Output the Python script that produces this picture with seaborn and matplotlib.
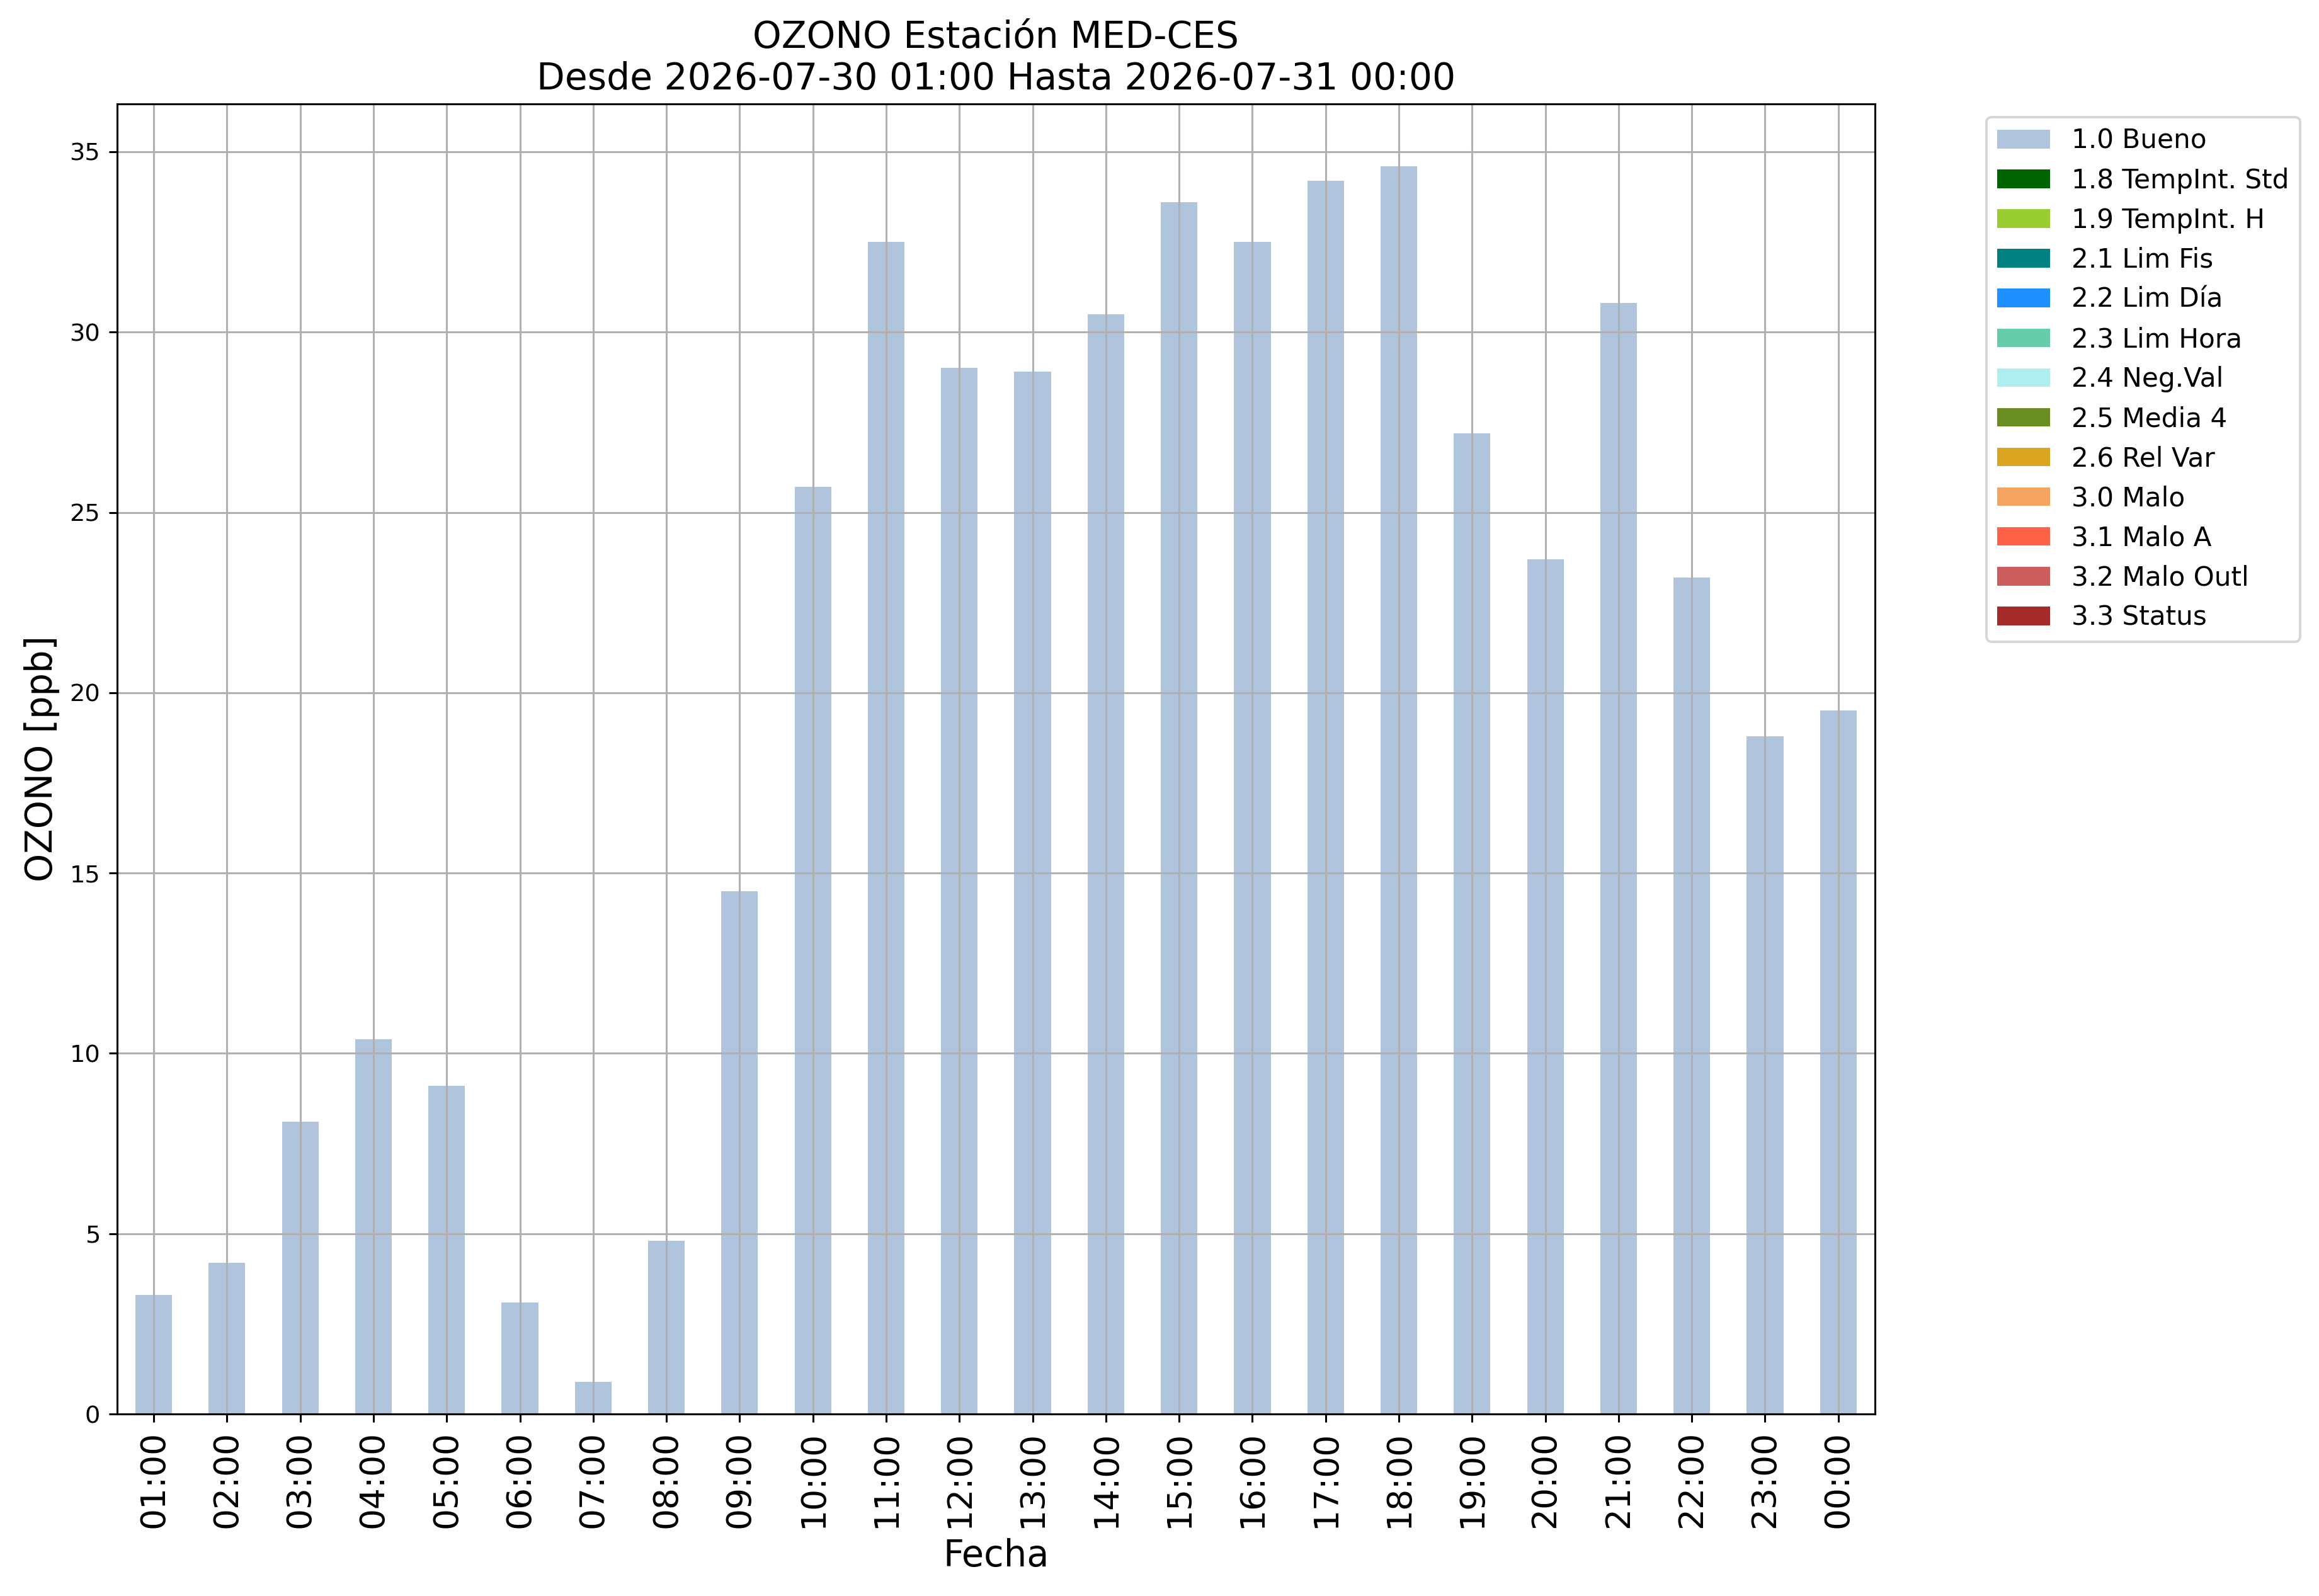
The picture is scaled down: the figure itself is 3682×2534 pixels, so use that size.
import matplotlib
matplotlib.use("Agg")
import pandas as pd
import seaborn as sns
from matplotlib import pyplot as plt

DPI = 276

HORAS = [
    "01:00", "02:00", "03:00", "04:00", "05:00", "06:00", "07:00", "08:00",
    "09:00", "10:00", "11:00", "12:00", "13:00", "14:00", "15:00", "16:00",
    "17:00", "18:00", "19:00", "20:00", "21:00", "22:00", "23:00", "00:00",
]
OZONO = [
    3.3, 4.2, 8.1, 10.4, 9.1, 3.1, 0.9, 4.8,
    14.5, 25.7, 32.5, 29.0, 28.9, 30.5, 33.6, 32.5,
    34.2, 34.6, 27.2, 23.7, 30.8, 23.2, 18.8, 19.5,
]
FLAG_LABELS = [
    "1.0 Bueno", "1.8 TempInt. Std", "1.9 TempInt. H", "2.1 Lim Fis",
    "2.2 Lim Día", "2.3 Lim Hora", "2.4 Neg.Val", "2.5 Media 4",
    "2.6 Rel Var", "3.0 Malo", "3.1 Malo A", "3.2 Malo Outl", "3.3 Status",
]
FLAG_COLORS = [
    "lightsteelblue", "darkgreen", "yellowgreen", "teal",
    "dodgerblue", "mediumaquamarine", "paleturquoise", "olivedrab",
    "goldenrod", "sandybrown", "tomato", "indianred", "brown",
]

df = pd.DataFrame({"Fecha": HORAS, "valor": OZONO, "flag": FLAG_LABELS[0]})

fig = plt.figure(figsize=(3682 / DPI, 2534 / DPI), dpi=DPI)
ax = fig.add_axes([0.0505, 0.114, 0.758, 0.821])

sns.barplot(
    data=df,
    x="Fecha",
    y="valor",
    hue="flag",
    hue_order=FLAG_LABELS,
    palette=dict(zip(FLAG_LABELS, FLAG_COLORS)),
    dodge=False,
    width=0.5,
    saturation=1,
    ax=ax,
)

ax.grid(True)
ax.set_title(
    "OZONO Estación MED-CES\nDesde 2026-07-30 01:00 Hasta 2026-07-31 00:00",
    fontsize=15.2,
)
ax.set_xlabel("Fecha", fontsize=15)
ax.set_ylabel("OZONO [ppb]", fontsize=15)
ax.tick_params(axis="x", labelsize=14, labelrotation=90)
ax.tick_params(axis="y", labelsize=10)

sns.move_legend(
    ax, "upper left", bbox_to_anchor=(1.056, 1), title=None, fontsize=11,
)

fig.savefig("out.png", dpi=DPI)
